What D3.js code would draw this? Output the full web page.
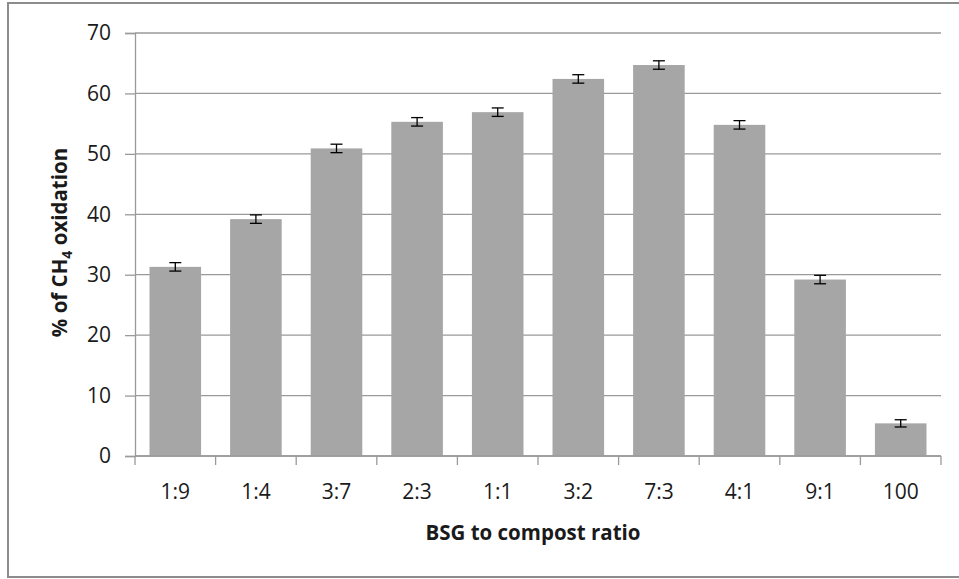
<!DOCTYPE html>
<html>
<head>
<meta charset="utf-8">
<script src="https://cdn.jsdelivr.net/npm/d3@7"></script>
<style>
  body { margin: 0; background: #fff; }
  text { font-family: "Open Sans", "Liberation Sans", sans-serif; fill: #1a1a1a; }
</style>
</head>
<body>
<svg id="chart" width="959" height="579"></svg>
<script>
// BSG to compost ratio vs % of CH4 oxidation
const ratios = ["1:9", "1:4", "3:7", "2:3", "1:1", "3:2", "7:3", "4:1", "9:1", "100"];
const oxidation = [31.3, 39.2, 50.9, 55.3, 56.9, 62.4, 64.7, 54.8, 29.2, 5.4];
const errors = [0.7, 0.7, 0.7, 0.7, 0.7, 0.7, 0.7, 0.7, 0.7, 0.6];
const yTicks = [0, 10, 20, 30, 40, 50, 60, 70];

const svg = d3.select("#chart");
const plotLeft = 135, plotRight = 941, plotTop = 33, plotBottom = 456;

// outer chart border
svg.append("rect")
    .attr("x", 8).attr("y", 3)
    .attr("width", 960).attr("height", 574)
    .attr("fill", "none")
    .attr("stroke", "#8c8c8c")
    .attr("stroke-width", 2);

const x = d3.scaleBand()
    .domain(ratios)
    .range([plotLeft, plotRight])
    .paddingInner(0.36)
    .paddingOuter(0.18);

const y = d3.scaleLinear()
    .domain([0, 70])
    .range([plotBottom, plotTop]);

// gridlines
svg.append("g")
    .selectAll("line")
    .data(yTicks)
    .enter()
    .append("line")
    .attr("x1", plotLeft).attr("x2", plotRight)
    .attr("y1", (d) => y(d)).attr("y2", (d) => y(d))
    .attr("stroke", "#9a9a9a")
    .attr("stroke-width", 1.3);

// y axis
let yAxis = svg.append("g")
    .attr("transform", `translate(${plotLeft},0)`)
    .call(d3.axisLeft(y).tickValues(yTicks).tickSize(10).tickPadding(14));
yAxis.select(".domain").attr("stroke", "#9a9a9a").attr("stroke-width", 1.3);
yAxis.selectAll(".tick line").attr("stroke", "#9a9a9a").attr("stroke-width", 1.3);
yAxis.selectAll(".tick text")
    .style("font-size", "21px")
    .attr("fill", "#1a1a1a");

// bars
svg.append("g")
    .selectAll("rect")
    .data(ratios)
    .enter()
    .append("rect")
    .attr("x", (d) => x(d))
    .attr("y", (d, i) => y(oxidation[i]))
    .attr("width", x.bandwidth())
    .attr("height", (d, i) => plotBottom - y(oxidation[i]))
    .attr("fill", "#a6a6a6");

// error bars
let err = svg.append("g")
    .selectAll("g")
    .data(ratios)
    .enter()
    .append("g")
    .attr("stroke", "#000")
    .attr("stroke-width", 1.3);
err.append("line")
    .attr("x1", (d) => x(d) + x.bandwidth() / 2)
    .attr("x2", (d) => x(d) + x.bandwidth() / 2)
    .attr("y1", (d, i) => y(oxidation[i] + errors[i]))
    .attr("y2", (d, i) => y(oxidation[i] - errors[i]));
err.append("line")
    .attr("x1", (d) => x(d) + x.bandwidth() / 2 - 6)
    .attr("x2", (d) => x(d) + x.bandwidth() / 2 + 6)
    .attr("y1", (d, i) => y(oxidation[i] + errors[i]))
    .attr("y2", (d, i) => y(oxidation[i] + errors[i]));
err.append("line")
    .attr("x1", (d) => x(d) + x.bandwidth() / 2 - 6)
    .attr("x2", (d) => x(d) + x.bandwidth() / 2 + 6)
    .attr("y1", (d, i) => y(oxidation[i] - errors[i]))
    .attr("y2", (d, i) => y(oxidation[i] - errors[i]));

// x axis: line, ticks on category boundaries, labels centred
svg.append("line")
    .attr("x1", plotLeft).attr("x2", plotRight)
    .attr("y1", plotBottom).attr("y2", plotBottom)
    .attr("stroke", "#9a9a9a")
    .attr("stroke-width", 1.3);

const bounds = d3.range(ratios.length + 1);
svg.append("g")
    .selectAll("line")
    .data(bounds)
    .enter()
    .append("line")
    .attr("x1", (d) => plotLeft + d * (plotRight - plotLeft) / ratios.length)
    .attr("x2", (d) => plotLeft + d * (plotRight - plotLeft) / ratios.length)
    .attr("y1", plotBottom).attr("y2", plotBottom + 9)
    .attr("stroke", "#9a9a9a")
    .attr("stroke-width", 1.3);

svg.append("g")
    .selectAll("text")
    .data(ratios)
    .enter()
    .append("text")
    .attr("x", (d) => x(d) + x.bandwidth() / 2)
    .attr("y", 499)
    .attr("text-anchor", "middle")
    .style("font-size", "21px")
    .text((d) => d);

// axis titles
svg.append("text")
    .attr("x", (plotLeft + plotRight) / 2 - 5)
    .attr("y", 540)
    .attr("text-anchor", "middle")
    .style("font-size", "20.5px")
    .style("font-weight", "bold")
    .text("BSG to compost ratio");

let yTitle = svg.append("text")
    .attr("transform", `translate(67,${(plotTop + plotBottom) / 2 - 2}) rotate(-90)`)
    .attr("text-anchor", "middle")
    .style("font-size", "20.5px")
    .style("font-weight", "bold");
yTitle.append("tspan").text("% of CH");
yTitle.append("tspan").attr("dy", 5).style("font-size", "14px").text("4");
yTitle.append("tspan").attr("dy", -5).text(" oxidation");
</script>
</body>
</html>
